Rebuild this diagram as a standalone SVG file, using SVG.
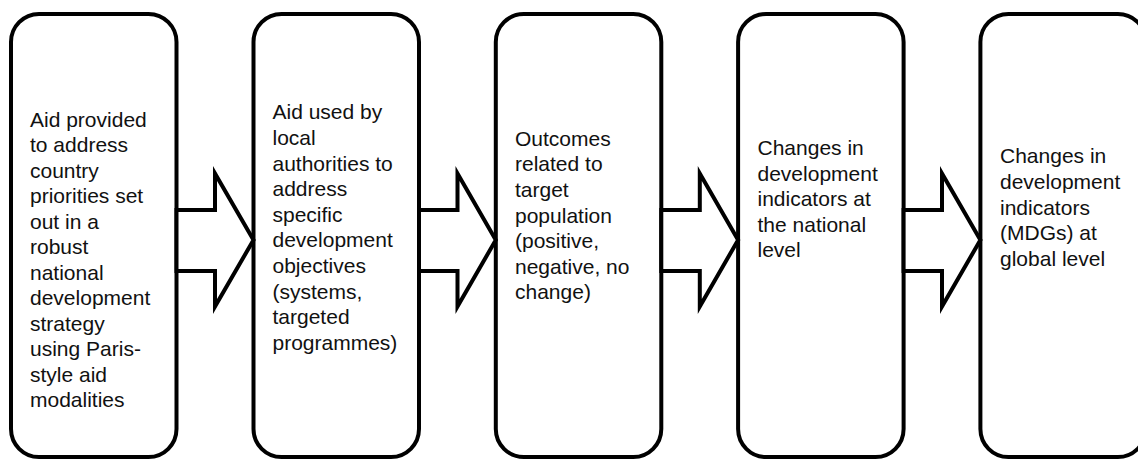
<svg xmlns="http://www.w3.org/2000/svg" width="1138" height="459" viewBox="0 0 1138 459">
<style>
.box{fill:#fff;stroke:#000;stroke-width:4}
.arr{fill:#fff;stroke:#000;stroke-width:4;stroke-linejoin:miter}
.t{font-family:"Liberation Sans",Arial,sans-serif;font-size:21px;fill:#111}
</style>
<rect width="1138" height="459" fill="#fff"/>
<g id="node1">
<rect class="box" x="11" y="14" width="165.5" height="443" rx="28" ry="28"/>
<text class="t">
<tspan x="30" y="126.5">Aid provided</tspan>
<tspan x="30" y="152">to address</tspan>
<tspan x="30" y="177.5">country</tspan>
<tspan x="30" y="203">priorities set</tspan>
<tspan x="30" y="228.5">out in a</tspan>
<tspan x="30" y="254">robust</tspan>
<tspan x="30" y="279.5">national</tspan>
<tspan x="30" y="305">development</tspan>
<tspan x="30" y="330.5">strategy</tspan>
<tspan x="30" y="356">using Paris-</tspan>
<tspan x="30" y="381.5">style aid</tspan>
<tspan x="30" y="407">modalities</tspan>
</text>
</g>
<g id="node2">
<rect class="box" x="253.5" y="14" width="165.5" height="443" rx="28" ry="28"/>
<text class="t">
<tspan x="272.5" y="119.3">Aid used by</tspan>
<tspan x="272.5" y="144.9">local</tspan>
<tspan x="272.5" y="170.5">authorities to</tspan>
<tspan x="272.5" y="196.1">address</tspan>
<tspan x="272.5" y="221.7">specific</tspan>
<tspan x="272.5" y="247.3">development</tspan>
<tspan x="272.5" y="272.9">objectives</tspan>
<tspan x="272.5" y="298.5">(systems,</tspan>
<tspan x="272.5" y="324.1">targeted</tspan>
<tspan x="272.5" y="349.7">programmes)</tspan>
</text>
</g>
<g id="node3">
<rect class="box" x="495.8" y="14" width="165.5" height="443" rx="28" ry="28"/>
<text class="t">
<tspan x="515" y="145.7">Outcomes</tspan>
<tspan x="515" y="171.3">related to</tspan>
<tspan x="515" y="196.9">target</tspan>
<tspan x="515" y="222.5">population</tspan>
<tspan x="515" y="248.1">(positive,</tspan>
<tspan x="515" y="273.7">negative, no</tspan>
<tspan x="515" y="299.3">change)</tspan>
</text>
</g>
<g id="node4">
<rect class="box" x="738.1" y="14" width="165.5" height="443" rx="28" ry="28"/>
<text class="t">
<tspan x="757.5" y="155">Changes in</tspan>
<tspan x="757.5" y="180.6">development</tspan>
<tspan x="757.5" y="206.2">indicators at</tspan>
<tspan x="757.5" y="231.8">the national</tspan>
<tspan x="757.5" y="257.4">level</tspan>
</text>
</g>
<g id="node5">
<rect class="box" x="980.4" y="14" width="165.5" height="443" rx="28" ry="28"/>
<text class="t">
<tspan x="1000" y="163.3">Changes in</tspan>
<tspan x="1000" y="189">development</tspan>
<tspan x="1000" y="214.7">indicators</tspan>
<tspan x="1000" y="240.4">(MDGs) at</tspan>
<tspan x="1000" y="266.1">global level</tspan>
</text>
</g>
<g id="connectors">
<polygon class="arr" points="176.5,210 215,210 215,173.5 253.5,240 215,306.5 215,271 176.5,271"/>
<polygon class="arr" points="419,210 457.5,210 457.5,173.5 495.8,240 457.5,306.5 457.5,271 419,271"/>
<polygon class="arr" points="661.3,210 699.8,210 699.8,173.5 738.1,240 699.8,306.5 699.8,271 661.3,271"/>
<polygon class="arr" points="903.6,210 942,210 942,173.5 980.4,240 942,306.5 942,271 903.6,271"/>
</g>
</svg>
